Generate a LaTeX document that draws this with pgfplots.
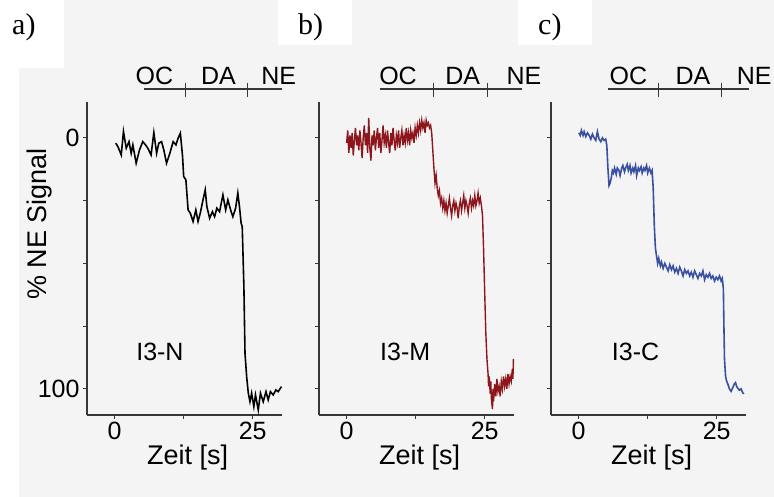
\documentclass[border=0pt]{standalone}
\usepackage{pgfplots}
\pgfplotsset{compat=1.18}
\usepackage{fontspec}
\setmainfont{Liberation Sans}
\newfontfamily\timesfont{Liberation Serif}
\definecolor{bggray}{RGB}{244,244,244}
\definecolor{axgray}{RGB}{55,55,55}
\definecolor{tracered}{RGB}{140,22,28}
\definecolor{traceblue}{RGB}{58,80,162}

\pgfplotsset{
  panel/.style={
    scale only axis, width=195bp, height=313bp, anchor=south west,
    xmin=-5, xmax=30.3, ymin=-14.3, ymax=110.4, y dir=reverse,
    axis x line*=bottom, axis y line*=left,
    axis line style={axgray, line width=1.8bp},
    xtick={0,12.5,25}, xticklabels={0,,25},
    ytick={0,25,50,75,100},
    tick align=outside, major tick length=4bp,
    tick style={axgray, line width=1.2bp},
    tick label style={font=\fontsize{25bp}{30bp}\selectfont, text=black},
    /pgf/number format/assume math mode=true,
    clip=false,
  },
}

\begin{document}
\begin{tikzpicture}[x=1bp,y=1bp]
\useasboundingbox (0,0) rectangle (774,497);
\fill[white] (0,0) rectangle (774,497);
\fill[bggray] (19,0) rectangle (774,497);
\fill[white] (0,429) rectangle (64,497);
\fill[white] (278,452) rectangle (352,497);
\fill[white] (518,452) rectangle (592,497);
\node[anchor=base west, font=\timesfont\fontsize{30bp}{32bp}\selectfont, inner sep=0] at (12,462) {a)};
\node[anchor=base west, font=\timesfont\fontsize{30bp}{32bp}\selectfont, inner sep=0] at (298,462) {b)};
\node[anchor=base west, font=\timesfont\fontsize{30bp}{32bp}\selectfont, inner sep=0] at (538,462) {c)};

% panel a
\begin{axis}[panel, at={(87bp,82bp)}, yticklabels={0,,,,100}]
\addplot[black, line width=1.6bp] coordinates {
(0.2,2.1)(0.6,3.5)(1.2,6.8)(1.6,-2.5)(2.1,4.1)(2.6,1.5)(3.0,6.1)(3.3,2.8)(3.9,10.1)(4.5,4.8)(5.1,1.5)(5.6,2.8)(6.0,4.1)(6.6,6.8)(7.1,-2.1)(7.6,6.1)(8.0,2.1)(8.5,1.5)(8.9,4.8)(9.4,10.1)(10.0,6.1)(10.6,1.5)(11.1,2.8)(11.5,0.1)(11.9,-1.9)(12.3,7.4)(12.5,15.4)(12.9,16.7)(13.3,28.7)(13.7,30.0)(14.2,33.3)(14.7,28.7)(15.1,33.3)(15.5,30.0)(16.0,24.7)(16.4,20.7)(16.7,27.4)(17.2,32.0)(17.7,29.4)(18.1,31.4)(18.5,28.0)(19.0,29.4)(19.3,26.0)(19.6,22.7)(20.1,28.7)(20.5,24.7)(21.0,28.7)(21.4,31.4)(21.9,28.0)(22.3,22.0)(22.6,27.4)(22.9,34.0)(23.1,35.3)(23.4,59.2)(23.6,85.8)(23.9,95.1)(24.2,101.7)(24.5,105.1)(24.8,101.7)(25.2,107.1)(25.5,102.4)(26.0,108.4)(26.4,101.7)(26.9,105.1)(27.4,101.1)(27.8,104.4)(28.2,101.1)(28.7,102.4)(29.2,100.4)(29.6,101.1)(30.2,99.1)
};
\draw[axgray, line width=1.5bp] (axis cs:5.4,-19.5) -- (axis cs:30.25,-19.5);
\draw[axgray, line width=1.2bp] (axis cs:12.9,-21.9) -- (axis cs:12.9,-16.3);
\draw[axgray, line width=1.2bp] (axis cs:24.1,-21.9) -- (axis cs:24.1,-16.3);
\node[anchor=base, font=\fontsize{25bp}{30bp}\selectfont] at (axis cs:7.2,-21.1) {OC};
\node[anchor=base, font=\fontsize{25bp}{30bp}\selectfont] at (axis cs:18.8,-21.1) {DA};
\node[anchor=base, font=\fontsize{25bp}{30bp}\selectfont] at (axis cs:29.7,-21.1) {NE};
\node[font=\fontsize{25bp}{30bp}\selectfont] at (axis cs:8.2,85.3) {I3-N};
\node[anchor=base, font=\fontsize{27bp}{30bp}\selectfont] at (axis cs:13.2,130.3) {Zeit [s]};
\node[rotate=90, font=\fontsize{27bp}{30bp}\selectfont] at (axis cs:-13.6,34.3) {\% NE Signal};
\end{axis}

% panel b
\begin{axis}[panel, at={(319bp,82bp)}, yticklabels={}]
\addplot[tracered, line width=1.4bp] coordinates {
(0.0,2)(0.2,-3)(0.4,6)(0.6,-1)(0.8,4)(1.0,-2)(1.2,7)(1.4,1)(1.6,-4)(1.8,3)(2.0,-1)(2.2,5)(2.4,-3)(2.6,2)(2.8,8)(3.0,0)(3.2,-5)(3.4,3)(3.6,-2)(3.8,6)(4.0,-8)(4.2,4)(4.4,9)(4.6,-1)(4.8,3)(5.0,-3)(5.2,5)(5.4,0)(5.6,-4)(5.8,4)(6.0,-2)(6.2,6)(6.4,1)(6.6,-5)(6.8,2)(7.0,-1)(7.2,4)(7.4,-3)(7.6,2)(7.8,6)(8.0,-2)(8.2,3)(8.4,-4)(8.6,1)(8.8,5)(9.0,-1)(9.2,2)(9.4,-3)(9.6,4)(9.8,0)(10.0,-3)(10.2,3)(10.4,-1)(10.6,2)(10.8,-4)(11.0,1)(11.2,-2)(11.4,3)(11.6,-3)(11.8,0)(12.0,-2)(12.2,2)(12.4,-4)(12.6,-1)(12.8,-5)(13.0,-2)(13.2,-6)(13.4,-3)(13.6,-7)(13.8,-4)(14.0,-6)(14.2,-2)(14.4,-7)(14.6,-5)(14.8,-6)(15.0,-4)(15.2,-5)
(15.4,-2)(15.6,5)(15.8,12)(16.0,18)(16.2,15)(16.4,20)(16.6,23)(16.8,21)(17.0,26)(17.2,24)(17.4,28)(17.6,25)(17.8,29)(18.0,26)(18.2,30)(18.4,27)(18.6,24)(18.8,28)(19.0,31)(19.2,27)(19.4,25)(19.6,29)(19.8,26)(20.0,28)(20.2,32)(20.4,27)(20.6,25)(20.8,29)(21.0,26)(21.2,23)(21.4,28)(21.6,25)(21.8,27)(22.0,30)(22.2,26)(22.4,24)(22.6,28)(22.8,25)(23.0,27)(23.2,23)(23.4,27)(23.6,25)(23.8,22)(24.0,26)(24.2,24)(24.4,27)(24.6,31)
(24.8,45)(25.0,62)(25.2,78)(25.4,88)(25.6,94)(25.7,99)(25.8,95)(26.0,102)(26.1,97)(26.2,104)(26.4,108)(26.5,100)(26.6,105)(26.8,98)(27.0,103)(27.2,96)(27.4,101)(27.6,99)(27.8,103)(28.0,97)(28.2,100)(28.4,95)(28.6,99)(28.8,96)(29.0,100)(29.2,94)(29.4,98)(29.6,95)(29.8,97)(30.0,92)(30.1,96)(30.2,88)
};
\draw[axgray, line width=1.5bp] (axis cs:6.0,-19.5) -- (axis cs:31.8,-19.5);
\draw[axgray, line width=1.2bp] (axis cs:15.7,-21.9) -- (axis cs:15.7,-16.3);
\draw[axgray, line width=1.2bp] (axis cs:25.5,-21.9) -- (axis cs:25.5,-16.3);
\node[anchor=base, font=\fontsize{25bp}{30bp}\selectfont] at (axis cs:9.3,-21.1) {OC};
\node[anchor=base, font=\fontsize{25bp}{30bp}\selectfont] at (axis cs:21.0,-21.1) {DA};
\node[anchor=base, font=\fontsize{25bp}{30bp}\selectfont] at (axis cs:32.1,-21.1) {NE};
\node[font=\fontsize{25bp}{30bp}\selectfont] at (axis cs:10.6,85.3) {I3-M};
\node[anchor=base, font=\fontsize{27bp}{30bp}\selectfont] at (axis cs:13.2,130.3) {Zeit [s]};
\end{axis}

% panel c
\begin{axis}[panel, at={(551bp,82bp)}, yticklabels={}]
\addplot[traceblue, line width=1.6bp] coordinates {
(0.05,-2)(0.3,-1)(0.5,-3)(0.8,-1)(1.0,-2.5)(1.3,-0.5)(1.6,-2)(1.9,-1)(2.2,0.5)(2.5,-1.5)(2.8,0)(3.1,1)(3.4,-2.5)(3.7,0.5)(4.0,1.5)(4.3,0)(4.6,1)(4.9,0.5)
(5.1,3)(5.3,12)(5.5,19)(5.7,18)(5.9,16)(6.1,13)(6.3,14)(6.5,12)(6.8,14.5)(7.0,12)(7.3,13)(7.5,15)(7.8,12)(8.0,11)(8.3,13.5)(8.5,12)(8.8,10.5)(9.0,13)(9.3,11)(9.5,14)(9.8,12)(10.0,13.5)(10.3,11)(10.5,15)(10.8,12)(11.0,13)(11.3,11.5)(11.5,14)(11.8,12)(12.0,13)(12.3,11)(12.5,14)(12.8,12)(13.1,14)(13.3,13)
(13.5,20)(13.7,35)(13.9,44)(14.1,47)(14.3,50)(14.5,48)(14.8,51)(15.0,49.5)(15.3,52)(15.6,50)(15.9,51.5)(16.2,53)(16.5,50.5)(16.8,52.5)(17.1,51)(17.4,53.5)(17.7,52)(18.0,54)(18.3,51.5)(18.6,53)(18.9,55)(19.2,52.5)(19.5,54)(19.8,53)(20.1,55)(20.4,53.5)(20.7,55.5)(21.0,53)(21.3,54.5)(21.6,56)(21.9,54)(22.2,55)(22.5,53)(22.8,56.5)(23.1,54.5)(23.4,55.5)(23.7,54)(24.0,56)(24.3,55)(24.6,57)(24.9,55.5)(25.2,56.5)(25.5,55)(25.8,57)(26.0,56)
(26.2,60)(26.3,75)(26.4,88)(26.6,95)(26.8,97)(27.0,98)(27.3,100)(27.6,101)(27.9,99.5)(28.2,98)(28.4,97.5)(28.6,99)(28.8,99.7)(29.1,100.5)(29.4,100)(29.7,101.5)(29.9,102)
};
\draw[axgray, line width=1.5bp] (axis cs:5.4,-19.5) -- (axis cs:30.9,-19.5);
\draw[axgray, line width=1.2bp] (axis cs:14.4,-21.9) -- (axis cs:14.4,-16.3);
\draw[axgray, line width=1.2bp] (axis cs:25.9,-21.9) -- (axis cs:25.9,-16.3);
\node[anchor=base, font=\fontsize{25bp}{30bp}\selectfont] at (axis cs:9.0,-21.1) {OC};
\node[anchor=base, font=\fontsize{25bp}{30bp}\selectfont] at (axis cs:20.7,-21.1) {DA};
\node[anchor=base, font=\fontsize{25bp}{30bp}\selectfont] at (axis cs:31.8,-21.1) {NE};
\node[font=\fontsize{25bp}{30bp}\selectfont] at (axis cs:10.3,85.3) {I3-C};
\node[anchor=base, font=\fontsize{27bp}{30bp}\selectfont] at (axis cs:13.2,130.3) {Zeit [s]};
\end{axis}
\end{tikzpicture}
\end{document}
